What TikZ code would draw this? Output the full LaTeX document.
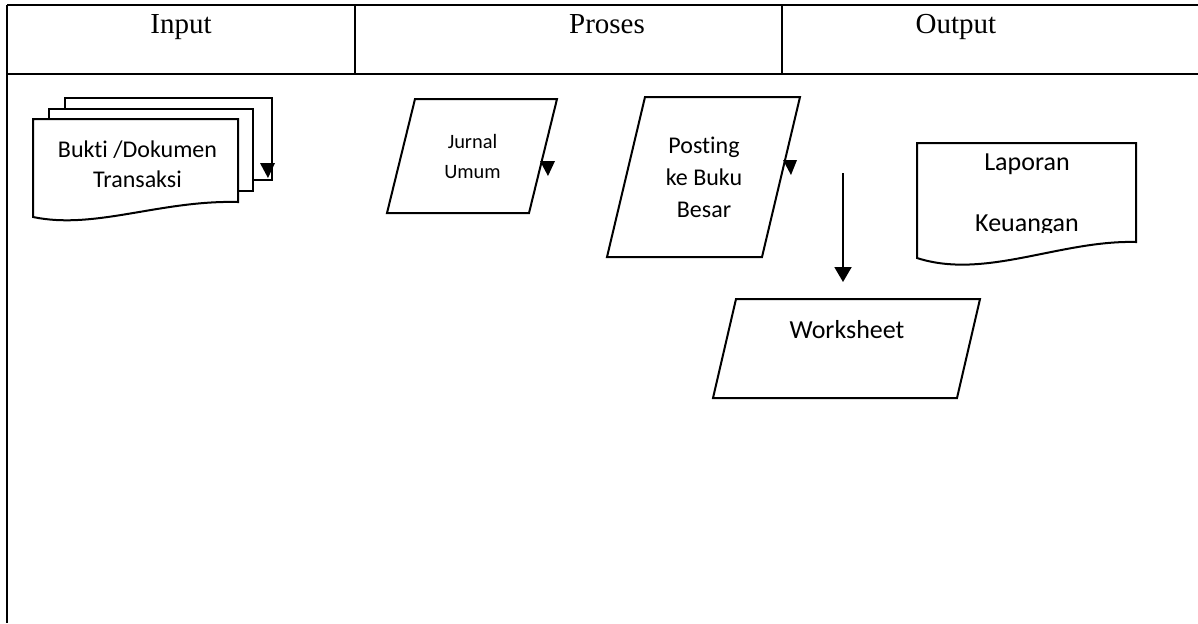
\documentclass[tikz,border=0pt]{standalone}
\usepackage{fontspec}
\newfontfamily\calibri[Ligatures=NoCommon]{Carlito}
\newfontfamily\hdrfont{Liberation Serif}
\usetikzlibrary{arrows.meta}
\begin{document}
\begin{tikzpicture}[x=0.5pt,y=-0.5pt,line width=1pt,
  hdr/.style={font=\hdrfont\fontsize{14.5}{17}\selectfont,anchor=base,inner sep=0pt},
  lbl/.style={font=\calibri\fontsize{12}{14}\selectfont,anchor=base,inner sep=0pt},
  shp/.style={draw=black,line width=1pt,fill=white,line join=miter},
  tipmark/.style={fill=black,draw=none}]
\useasboundingbox (0,0) rectangle (1198,623);
\fill[white] (0,0) rectangle (1198,623);
% table
\coordinate (tl) at (7,5); \coordinate (tr) at (1198,5);
\coordinate (hl) at (7,74); \coordinate (hr) at (1198,74);
\coordinate (bl) at (7,623);
\coordinate (d1t) at (355,5); \coordinate (d1b) at (355,74);
\coordinate (d2t) at (782,5); \coordinate (d2b) at (782,74);
\draw (tl) -- (tr);
\draw (hl) -- (hr);
\draw (tl) -- (bl);
\draw (d1t) -- (d1b);
\draw (d2t) -- (d2b);
\node[hdr] (hin) at (181,33) {Input};
\node[hdr] (hpr) at (607,33) {Proses};
\node[hdr] (hout) at (956,33) {Output};
% multi document
\draw[shp] (65,98) rectangle (272,180);
\draw[shp] (49,109) rectangle (253,191);
\draw[shp] (33,119) -- (238,119) -- (238,202) .. controls (160,200) and (95,230) .. (33,217) -- cycle;
\fill[tipmark] (260,163) -- (275,163) -- (268,178) -- cycle;
\node[lbl] (bukti) at (137.5,157) {Bukti /Dokumen};
\node[lbl] (trans) at (137.5,187) {Transaksi};
% Jurnal Umum
\draw[shp] (415,99) -- (557,99) -- (529,213) -- (387,213) -- cycle;
\fill[tipmark] (540,161) -- (555,161) -- (548,176) -- cycle;
\node[lbl,font=\calibri\fontsize{10.2}{12}\selectfont] (jur) at (472.5,148) {Jurnal};
\node[lbl,font=\calibri\fontsize{10.2}{12}\selectfont] (umum) at (472.5,178) {Umum};
% Posting
\draw[shp] (645,97) -- (800,97) -- (762,257) -- (607,257) -- cycle;
\fill[tipmark] (783,160) -- (797,160) -- (791,175) -- cycle;
\node[lbl] (post) at (704,153) {Posting};
\node[lbl] (kebuku) at (704,185) {ke Buku};
\node[lbl] (besar) at (704,217) {Besar};
% Laporan Keuangan
\draw[shp] (917,143) -- (1136,143) -- (1136,242) .. controls (1060,240) and (985,280) .. (917,258) -- cycle;
\node[lbl,font=\calibri\fontsize{13}{15}\selectfont] (lap) at (1027,170) {Laporan};
\begin{scope}
\clip (917,143) rectangle (1136,232);
\node[lbl,font=\calibri\fontsize{13}{15}\selectfont] (keu) at (1027,231) {Keuangan};
\end{scope}
% arrow
\coordinate (a1) at (843,173);
\coordinate (a2) at (843,282);
\draw[-{Triangle[width=8.5pt,length=7.5pt]}] (a1) -- (a2);
% Worksheet
\draw[shp] (736,299) -- (980,299) -- (957,398) -- (713,398) -- cycle;
\node[lbl,font=\calibri\fontsize{13}{15}\selectfont] (ws) at (847,338) {Worksheet};
\end{tikzpicture}
\end{document}
